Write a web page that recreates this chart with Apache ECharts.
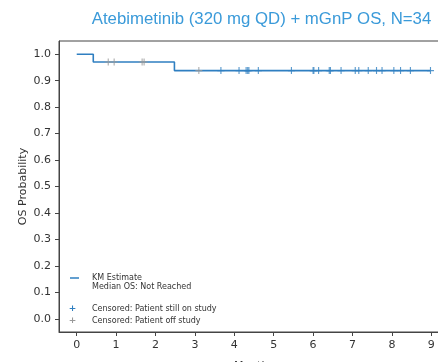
<!DOCTYPE html>
<html>
<head>
<meta charset="utf-8">
<script src="https://cdn.jsdelivr.net/npm/echarts@6/dist/echarts.min.js"></script>
<style>html,body{margin:0;padding:0;background:#fff;overflow:hidden}#c{width:438px;height:362px}</style>
</head>
<body>
<div id="c"></div>
<script>
const titleText = 'Atebimetinib (320 mg QD) + mGnP OS, N=34';
const kmPoints = [[0, 1.0], [0.42, 0.9706], [2.48, 0.9382], [8.98, 0.9382]];
const censorOffStudyMonths = [0.80, 0.95, 1.66, 1.71, 3.10];
const censorOnStudyMonths = [3.66, 4.12, 4.30, 4.34, 4.37, 4.61, 5.45, 6.00, 6.02, 6.14, 6.41, 6.44, 6.71, 7.07, 7.16, 7.40, 7.61, 7.75, 8.05, 8.22, 8.47, 8.98];
const xTicks = [0, 1, 2, 3, 4, 5, 6, 7, 8, 9];
const yTicks = [0.0, 0.1, 0.2, 0.3, 0.4, 0.5, 0.6, 0.7, 0.8, 0.9, 1.0];
const legendLines = ['KM Estimate', 'Median OS: Not Reached', 'Censored: Patient still on study', 'Censored: Patient off study'];

function survivalAt(t) {
  let s = kmPoints[0][1];
  for (const p of kmPoints) { if (p[0] <= t) s = p[1]; }
  return s;
}
const plus = 'path://M-0.16,-1 L0.16,-1 L0.16,1 L-0.16,1 Z M-1,-0.16 L1,-0.16 L1,0.16 L-1,0.16 Z';
const blue = '#2f7fc1';
const gray = '#999999';
const txt = '#333333';
const font = 'DejaVu Sans';

const chart = echarts.init(document.getElementById('c'), null, {renderer: 'canvas'});
chart.setOption({
  animation: false,
  backgroundColor: '#fff',
  grid: {left: 59, right: -11, top: 41, bottom: 30, outerBoundsMode: 'none', containLabel: false, show: true, borderColor: '#444', borderWidth: 1, backgroundColor: 'transparent'},
  xAxis: {
    type: 'value', min: -0.45, max: 9.45,
    name: 'Months', nameLocation: 'middle', nameGap: 29, nameMoveOverlap: false,
    nameTextStyle: {color: txt, fontSize: 11, fontFamily: font},
    axisLine: {show: true, onZero: false, lineStyle: {color: '#444'}},
    axisTick: {show: true, length: 4, customValues: xTicks, lineStyle: {color: '#444'}},
    axisLabel: {customValues: xTicks, color: txt, fontSize: 11, fontFamily: font, margin: 8},
    splitLine: {show: false}
  },
  yAxis: {
    type: 'value', min: -0.05, max: 1.05,
    name: 'OS Probability', nameLocation: 'middle', nameGap: 30, nameRotate: 90, nameMoveOverlap: false,
    nameTextStyle: {color: txt, fontSize: 11, fontFamily: font},
    axisLine: {show: true, onZero: false, lineStyle: {color: '#444'}},
    axisTick: {show: true, length: 4, customValues: yTicks, lineStyle: {color: '#444'}},
    axisLabel: {customValues: yTicks, color: txt, fontSize: 11, fontFamily: font, margin: 8, formatter: v => v.toFixed(1)},
    splitLine: {show: false}
  },
  series: [
    {type: 'line', step: 'end', data: kmPoints, symbol: 'none', lineStyle: {color: blue, width: 1.6}, z: 2},
    {type: 'scatter', data: censorOffStudyMonths.map(t => [t, survivalAt(t)]), symbol: plus, symbolSize: 7, itemStyle: {color: gray}, z: 3},
    {type: 'scatter', data: censorOnStudyMonths.map(t => [t, survivalAt(t)]), symbol: plus, symbolSize: 7, itemStyle: {color: blue}, z: 4}
  ],
  graphic: [
    {type: 'text', x: 261.5, y: 19, style: {text: titleText, fill: '#3a9ad9', font: '16.8px "Liberation Sans"', textAlign: 'center', textVerticalAlign: 'middle'}},
    {type: 'line', shape: {x1: 70, y1: 278, x2: 79, y2: 278}, style: {stroke: blue, lineWidth: 1.5}},
    {type: 'text', x: 92, y: 278, style: {text: legendLines[0], fill: txt, font: '8px "DejaVu Sans"', textVerticalAlign: 'middle'}},
    {type: 'text', x: 92, y: 287, style: {text: legendLines[1], fill: txt, font: '8px "DejaVu Sans"', textVerticalAlign: 'middle'}},
    {type: 'text', x: 72.5, y: 308.5, style: {text: '+', fill: blue, font: 'bold 9px "DejaVu Sans"', textAlign: 'center', textVerticalAlign: 'middle'}},
    {type: 'text', x: 92, y: 308.5, style: {text: legendLines[2], fill: txt, font: '8px "DejaVu Sans"', textVerticalAlign: 'middle'}},
    {type: 'text', x: 72.5, y: 321, style: {text: '+', fill: gray, font: 'bold 9px "DejaVu Sans"', textAlign: 'center', textVerticalAlign: 'middle'}},
    {type: 'text', x: 92, y: 321, style: {text: legendLines[3], fill: txt, font: '8px "DejaVu Sans"', textVerticalAlign: 'middle'}}
  ]
});
</script>
</body>
</html>
